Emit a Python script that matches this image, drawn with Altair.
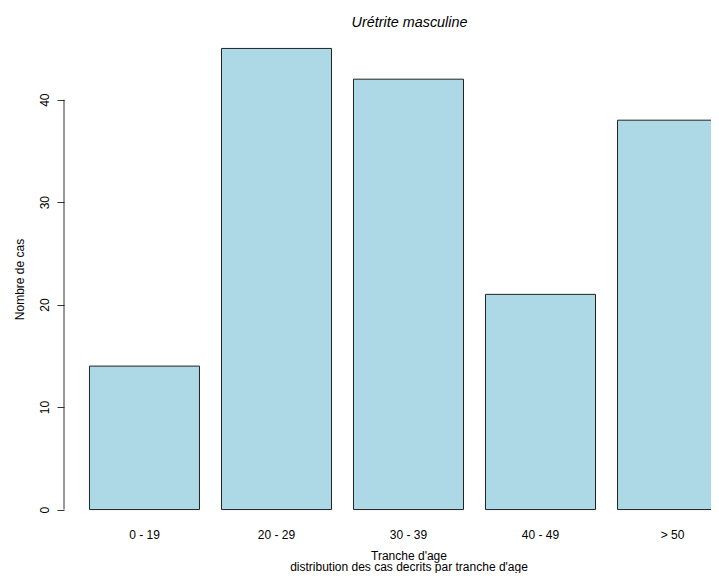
import altair as alt
import pandas as pd

categories = ["0 - 19", "20 - 29", "30 - 39", "40 - 49", "> 50"]
counts = [14, 45, 42, 21, 38]
y_ticks = [0, 10, 20, 30, 40]

df = pd.DataFrame({"tranche": categories, "cas": counts})
axis_df = pd.DataFrame({"lo": [min(y_ticks)], "hi": [max(y_ticks)]})

FONT = "Liberation Sans"

x_scale = alt.Scale(domain=categories, range=[0, 689], paddingInner=0.1667, paddingOuter=0.193)
y_scale = alt.Scale(domain=[-1.8, 46.8], nice=False, zero=False)

bars = alt.Chart(df).mark_bar(
    fill="#ADD8E6", stroke="#222222", strokeWidth=1, clip=True
).encode(
    x=alt.X("tranche:N", scale=x_scale, sort=categories,
            axis=alt.Axis(title=["Tranche d'age", "distribution des cas decrits par tranche d'age"],
                          labelAngle=0, ticks=False, domain=False, grid=False, labelPadding=1,
                          labelFont=FONT, labelFontSize=12, labelColor="black",
                          titleFont=FONT, titleFontSize=12, titleFontWeight="normal",
                          titleColor="black", titleY=31, titleBaseline="alphabetic",
                          titleLineHeight=11.5)),
    y=alt.Y("cas:Q", scale=y_scale,
            axis=alt.Axis(title="Nombre de cas", values=y_ticks, domain=False, grid=False,
                          tickSize=7, tickColor="#333333", labelAngle=270,
                          labelAlign="center", labelBaseline="bottom", labelPadding=6,
                          labelFont=FONT, labelFontSize=12, labelColor="black",
                          titleFont=FONT, titleFontSize=12, titleFontWeight="normal",
                          titleColor="black", titleAngle=270, titleX=-45, titleY=249,
                          titleAlign="center", titleBaseline="middle")),
    y2=alt.datum(0),
)

axis_line = alt.Chart(axis_df).mark_rule(color="#333333", strokeWidth=1).encode(
    x=alt.value(0),
    y=alt.Y("lo:Q", scale=y_scale),
    y2="hi:Q",
)

chart = alt.layer(bars, axis_line).properties(
    width=647,
    height=498,
    background="white",
    autosize=alt.AutoSizeParams(type="none"),
    padding={"left": 56, "top": 22, "right": 0, "bottom": 45},
    title=alt.TitleParams("Urétrite masculine", font=FONT, fontSize=14.4, fontStyle="italic",
                          fontWeight="normal", color="black", anchor="middle", dx=22,
                          offset=0),
).configure_view(stroke="transparent", strokeWidth=0)

chart.save("out.html", embed_options={"renderer": "svg", "actions": False})
